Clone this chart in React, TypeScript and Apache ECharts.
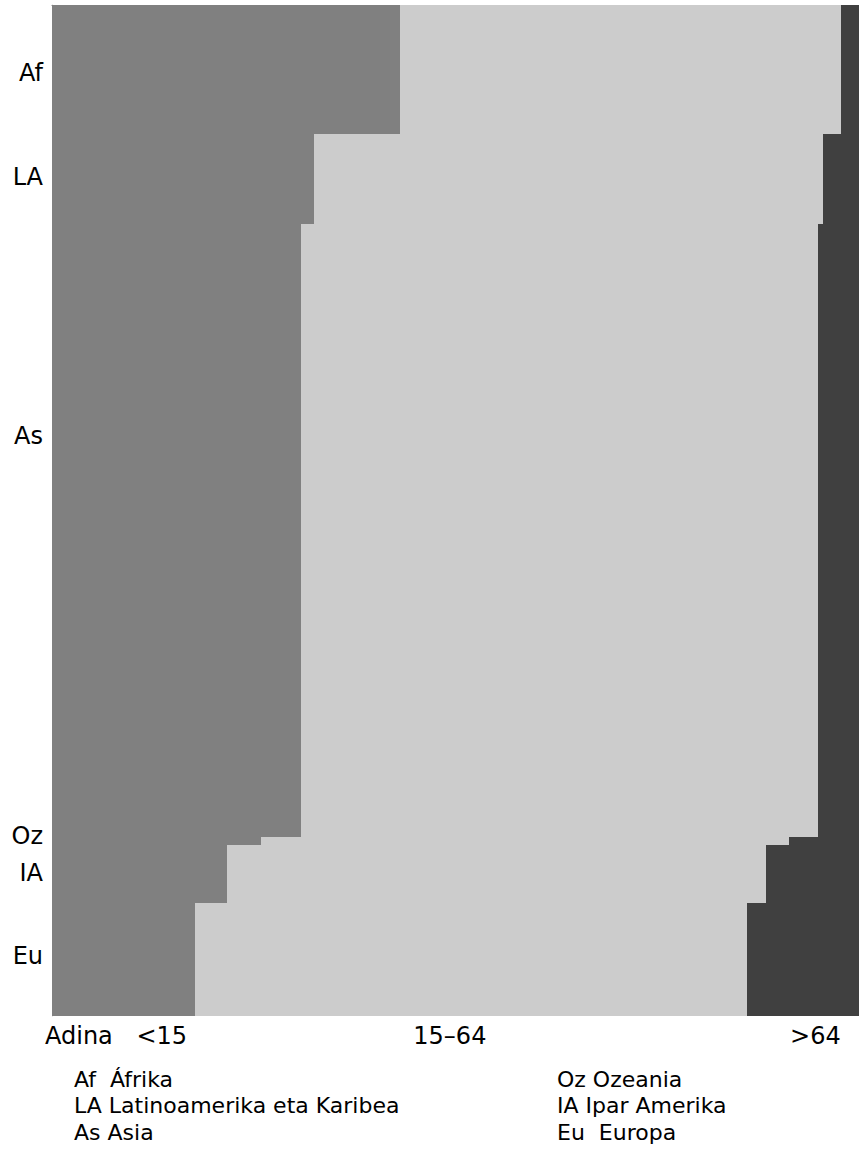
import React, { useEffect, useRef } from "react";
import * as echarts from "echarts";

// Regions (top to bottom)
const regionCodes = ["Af", "LA", "As", "Oz", "IA", "Eu"];
const regionNames = ["Áfrika", "Latinoamerika eta Karibea", "Asia", "Ozeania", "Ipar Amerika", "Europa"];
const legendTexts = ["Af  Áfrika", "LA Latinoamerika eta Karibea", "As Asia", "Oz Ozeania", "IA Ipar Amerika", "Eu  Europa"];
// Population (millions, estimated) -> bar heights
const population = [775, 540, 3670, 50, 348, 678];
// Age shares (%)
const under15 = [43.1, 32.5, 30.9, 25.9, 21.7, 17.7];
const age15to64 = [54.7, 63.0, 64.0, 65.4, 66.8, 68.4];
const over64 = [2.2, 4.5, 5.1, 8.7, 11.5, 13.9];

const ageGroups = ["<15", "15–64", ">64"];
const ageColors = ["#808080", "#cccccc", "#404040"];
// label anchor positions
const ageLabelPos = [13.6, 49.3, 94.6];
const regionLabelPos = [408, 1032, 2586, 4980, 5205, 5700];

const FONT = "DejaVu Sans";

export default function App() {
  const ref = useRef<HTMLDivElement>(null);
  useEffect(() => {
    if (!ref.current) return;
    const chart = echarts.init(ref.current, null, { renderer: "svg" });
    const total = population.reduce((a, b) => a + b, 0);
    const shares = [under15, age15to64, over64];
    const data: number[][] = [];
    let yStart = 0;
    population.forEach((p, i) => {
      let xStart = 0;
      shares.forEach((arr, j) => {
        data.push([xStart, xStart + arr[i], yStart, yStart + p, j]);
        xStart += arr[i];
      });
      yStart += p;
    });

    const legendGraphics: any[] = [];
    legendTexts.forEach((t, i) => {
      const col = i < 3 ? 0 : 1;
      const row = i % 3;
      legendGraphics.push({
        type: "text",
        left: col === 0 ? 74 : 557,
        top: 1068 + row * 26.5,
        style: { text: t, fontSize: 22, fontFamily: FONT, fill: "#000" },
      });
    });

    chart.setOption({
      animation: false,
      grid: { left: 52, right: 0, top: 5, bottom: 135 },
      xAxis: [
        {
          type: "value",
          min: 0,
          max: 100,
          position: "bottom",
          axisLine: { show: true, lineStyle: { color: "#cccccc", width: 1 } },
          axisTick: { show: false },
          splitLine: { show: false },
          axisLabel: {
            customValues: ageLabelPos,
            formatter: (v: number) => {
              const idx = ageLabelPos.findIndex((p) => Math.abs(p - v) < 0.01);
              return idx >= 0 ? ageGroups[idx] : "";
            },
            fontSize: 24,
            fontFamily: FONT,
            color: "#000",
            margin: 8,
          },
        },
        {
          type: "value",
          min: 0,
          max: 100,
          position: "top",
          axisLine: { show: true, lineStyle: { color: "#999999", width: 1 } },
          axisTick: { show: false },
          splitLine: { show: false },
          axisLabel: { show: false },
        },
      ],
      yAxis: {
        type: "value",
        inverse: true,
        min: 0,
        max: total,
        axisLine: { show: true, lineStyle: { color: "#cccccc", width: 1 } },
        axisTick: { show: false },
        splitLine: { show: false },
        axisLabel: {
          customValues: regionLabelPos,
          formatter: (v: number) => {
            const idx = regionLabelPos.findIndex((p) => Math.abs(p - v) < 0.01);
            return idx >= 0 ? regionCodes[idx] : "";
          },
          fontSize: 24,
          fontFamily: FONT,
          color: "#000",
          margin: 9,
        },
      },
      series: [
        {
          type: "custom",
          xAxisIndex: 0,
          yAxisIndex: 0,
          encode: { x: [0, 1], y: [2, 3] },
          data,
          renderItem: (params: any, api: any) => {
            const p0 = api.coord([api.value(0), api.value(2)]);
            const p1 = api.coord([api.value(1), api.value(3)]);
            const x0 = Math.round(p0[0]);
            const x1 = Math.round(p1[0]);
            const y0 = Math.round(p0[1]);
            const y1 = Math.round(p1[1]);
            return {
              type: "rect",
              shape: { x: x0, y: y0, width: x1 - x0, height: y1 - y0 },
              style: { fill: ageColors[api.value(4)] },
            };
          },
        },
      ],
      graphic: [
        {
          type: "text",
          left: 45,
          top: 1024,
          style: { text: "Adina", fontSize: 24, fontFamily: FONT, fill: "#000" },
        },
        ...legendGraphics,
      ],
    });
    return () => chart.dispose();
  }, []);
  return (
    <div
      ref={ref}
      style={{ position: "absolute", left: 0, top: 0, width: 859, height: 1151, background: "#fff" }}
    />
  );
}
